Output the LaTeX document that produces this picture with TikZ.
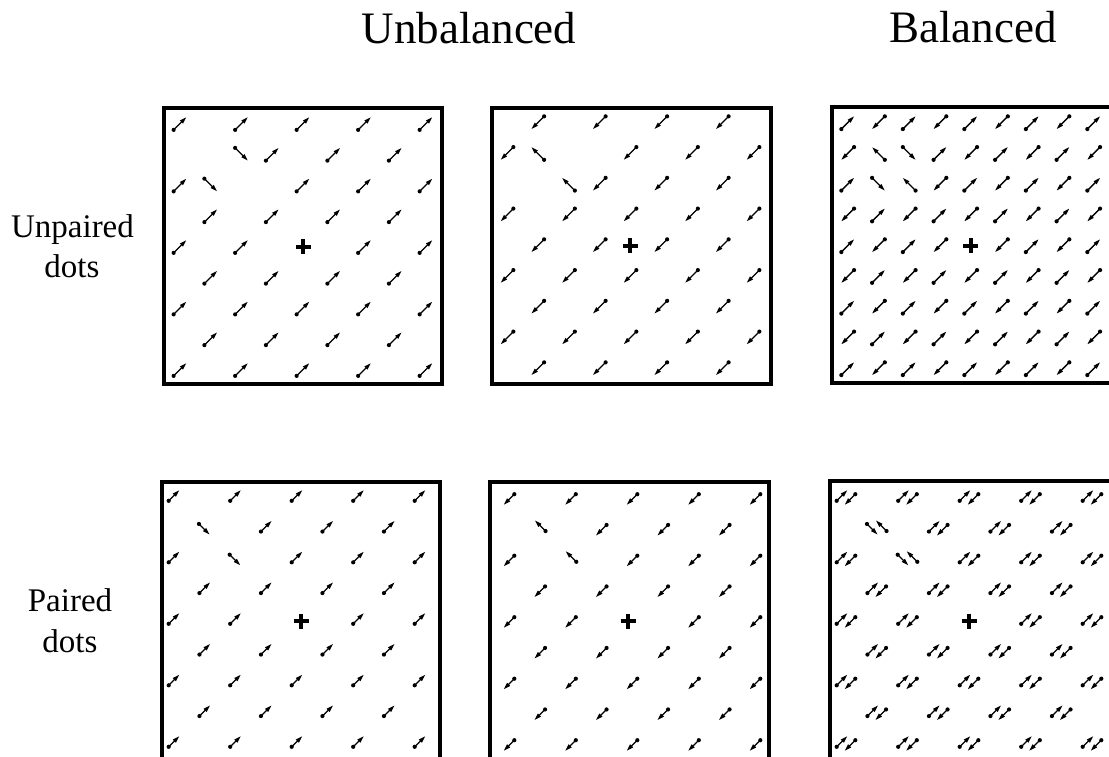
\documentclass[tikz,border=0pt]{standalone}
\usepackage{fontspec}
\setmainfont{Liberation Serif}
\usetikzlibrary{arrows.meta}
\tikzset{
  arw/.style={line width=1.3pt, -{Triangle[length=7pt,width=4pt]}},
  framebox/.style={line width=4pt},
  crossmark/.style={line width=4pt},
  ttl/.style={font=\fontsize{45}{54}\selectfont, anchor=base, inner sep=0pt},
  lbl/.style={font=\fontsize{33}{40}\selectfont, anchor=base, inner sep=0pt},
}
% one dot-arrow: centre x, centre y, angle, length
\newcommand\DA[4]{%
  \begin{scope}[shift={(#1,#2)},rotate=#3]
    \draw[arw] (-#4/2,0) -- (#4/2,0);
    \fill (-#4/2,0) circle[radius=2.1];
  \end{scope}}
% field: cx, cy, parity, angle, rotated parity, rotated angle, length
\newcommand\Field[7]{%
  \foreach \r in {-4,...,4}{%
    \foreach \c in {-4,...,4}{%
      \pgfmathtruncatemacro\mypp{mod(\r+\c+8,2)}%
      \pgfmathtruncatemacro\myspc{(\r<-1)&&(\r>-4)&&(\c<-1)&&(\c>-4)}%
      \pgfmathtruncatemacro\mycz{(\r==0)&&(\c==0)}%
      \ifnum\myspc=1
        \ifnum\mypp=#5 \DA{#1+\c*30.75+\rdx}{#2+\r*30.75+\rdy}{#6}{#7}\fi
      \else
        \ifnum\mycz=0 \ifnum\mypp=#3 \DA{#1+\c*30.75+\ndx}{#2+\r*30.75+\ndy}{#4}{#7}\fi\fi
      \fi
    }}}
\newcommand\Cross[2]{%
  \draw[crossmark] (#1-7.5,#2) -- (#1+7.5,#2) (#1,#2-7.5) -- (#1,#2+7.5);}
\begin{document}
\begin{tikzpicture}[x=1pt,y=-1pt]
\useasboundingbox (0,0) rectangle (1109,756);
\clip (0,0) rectangle (1109,756);
\fill[white] (0,0) rectangle (1109,756);

% titles and labels
\node[ttl] (t1) at (469,43.3) {Unbalanced};
\node[ttl] (t2) at (973,42.7) {Balanced};
\node[lbl] (l1a) at (72.5,237.3) {Unpaired};
\node[lbl] (l1b) at (72,277.3) {dots};
\node[lbl] (l2a) at (70,611.7) {Paired};
\node[lbl] (l2b) at (70,652.7) {dots};

% frames
\draw[framebox] (164,108) rectangle (442,384);
\draw[framebox] (492,108) rectangle (770.5,384);
\draw[framebox] (832.3,107) rectangle (1112,383);
\draw[framebox] (162,481.5) rectangle (440,759);
\draw[framebox] (490,481.5) rectangle (769,759);
\draw[framebox] (830,481) rectangle (1112,759);

% fixation crosses
\Cross{303}{246.5}
\Cross{630}{245.7}
\Cross{970.7}{245.7}
\Cross{301}{621}
\Cross{628}{621}
\Cross{969}{621}

% top row: unpaired dots
\def\ndx{0}\def\ndy{0}\def\rdx{0}\def\rdy{0}
\Field{303}{246.5}{0}{45}{1}{-45}{18}
\Field{630}{245.7}{1}{225}{0}{135}{18}
\Field{970.7}{245.7}{0}{45}{1}{-45}{18}
\Field{970.7}{245.7}{1}{225}{0}{135}{18}

% bottom row: paired dots
\def\ndx{-4}\def\ndy{-2.5}\def\rdx{-4.5}\def\rdy{0.5}
\Field{301}{621}{0}{45}{0}{-45}{15}
\Field{969}{621}{0}{45}{0}{-45}{15}
\def\ndx{4}\def\ndy{1.5}\def\rdx{4.5}\def\rdy{-3}
\Field{628}{621}{0}{225}{0}{135}{15}
\Field{969}{621}{0}{225}{0}{135}{15}
\end{tikzpicture}
\end{document}
